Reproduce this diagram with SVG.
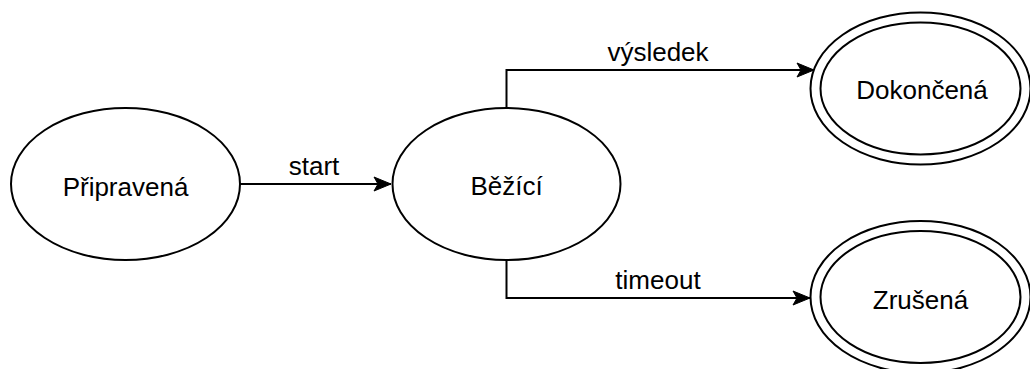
<svg xmlns="http://www.w3.org/2000/svg" width="1030" height="369" viewBox="0 0 1030 369">
  <style>
    .state { fill: #ffffff; stroke: #000000; stroke-width: 2; }
    .label { font-family: "Liberation Sans", Arial, Helvetica, sans-serif; font-size: 26px; fill: #000000; text-anchor: middle; }
    .edge { fill: none; stroke: #000000; stroke-width: 2; }
  </style>
  <defs>
    <marker id="arrow" markerUnits="userSpaceOnUse" markerWidth="20" markerHeight="20" viewBox="0 0 20 20" refX="18" refY="10" orient="auto">
      <path d="M1,3 L18,10 L1,17 L5,10 Z" fill="#000000" stroke="#000000" stroke-width="1"/>
    </marker>
  </defs>

  <!-- transitions between states -->
  <g id="connectors">
    <path class="edge" d="M240,184 L391,184" marker-end="url(#arrow)"/>
    <text class="label" x="314" y="175">start</text>
    <path class="edge" d="M506.5,108 L506.5,70 L814,70" marker-end="url(#arrow)"/>
    <text class="label" x="658" y="61">výsledek</text>
    <path class="edge" d="M506.5,260 L506.5,298 L810,298" marker-end="url(#arrow)"/>
    <text class="label" x="658" y="289">timeout</text>
  </g>

  <g id="pripravena">
    <ellipse class="state" cx="125.5" cy="184" rx="114.5" ry="76"/>
    <text class="label" x="125.5" y="196">Připravená</text>
  </g>

  <g id="bezici">
    <ellipse class="state" cx="506.5" cy="184" rx="114" ry="76"/>
    <text class="label" x="506.5" y="195">Běžící</text>
  </g>

  <!-- final states: double ellipse -->
  <g id="dokoncena">
    <ellipse class="state" cx="920.5" cy="88.5" rx="110" ry="76"/>
    <ellipse class="state" cx="920.5" cy="88.5" rx="100" ry="66"/>
    <text class="label" x="922" y="99">Dokončená</text>
  </g>

  <g id="zrusena">
    <ellipse class="state" cx="920.5" cy="297" rx="110" ry="76"/>
    <ellipse class="state" cx="920.5" cy="297" rx="100" ry="66"/>
    <text class="label" x="920.5" y="309">Zrušená</text>
  </g>
</svg>
